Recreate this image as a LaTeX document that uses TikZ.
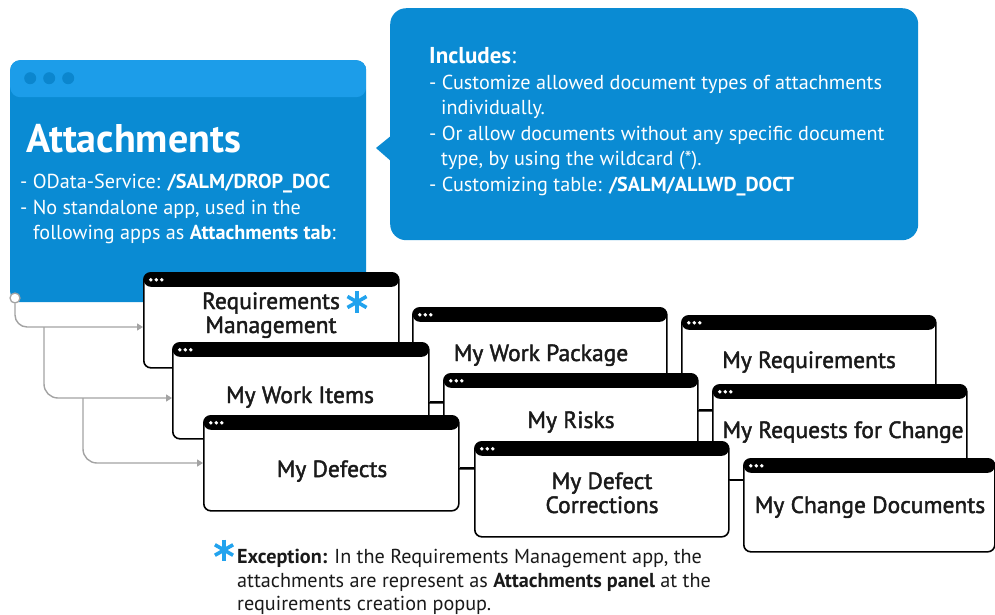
\documentclass[tikz,border=0pt]{standalone}
\usepackage{fontspec}
\setmainfont{PT Sans}
\newfontfamily\medfont[FakeBold=1.8]{PT Sans}
\usetikzlibrary{arrows.meta,calc}
\definecolor{bodyblue}{HTML}{0A8BD3}
\definecolor{barblue}{HTML}{1C9DE9}
\definecolor{dotblue}{HTML}{0B86CE}
\definecolor{starblue}{HTML}{22A3EE}
\definecolor{graylc}{HTML}{A3A3A3}
\definecolor{ink}{HTML}{1A1A1A}
\tikzset{
  appwin/.style={draw=black, line width=1.6pt, fill=white, rounded corners=7pt,
    inner sep=0pt, anchor=north west, minimum width=#1,
    path picture={
      \fill[black] (path picture bounding box.north west) rectangle ([yshift=-14pt]path picture bounding box.north east);
      \foreach \dx in {7,12.5,18}{\fill[white] ([xshift=\dx pt,yshift=-7pt]path picture bounding box.north west) circle (1.9pt);}
    }},
  wintitle/.style={font=\fontsize{23.5}{26}\medfont, text=ink, inner sep=0pt, anchor=base},
  bodytext/.style={font=\fontsize{20.2}{24}\selectfont, inner sep=0pt, anchor=base west},
  whitetext/.style={bodytext, text=white},
  grayline/.style={draw=graylc, line width=1.4pt, -{Triangle[length=6pt,width=7pt]}},
  conn/.style={draw=black, line width=1.6pt},
  starmark/.style={draw=starblue, line width=3.6pt}
}
\newcommand{\bluestar}[2]{%
  \foreach \a in {90,30,-30}{\draw[starmark] ($(#1)+(\a:#2)$) -- ($(#1)+(\a+180:#2)$);}}
\begin{document}
\begin{tikzpicture}[x=1pt,y=-1pt]
\useasboundingbox (0,0) rectangle (995,614);
\fill[white] (0,0) rectangle (995,614);

% Attachments window
\node[draw=none, fill=bodyblue, rounded corners=10pt, inner sep=0pt, anchor=north west,
  minimum width=356pt, minimum height=242pt,
  path picture={
    \fill[barblue] (path picture bounding box.north west) rectangle ([yshift=-37pt]path picture bounding box.north east);
    \foreach \dx in {20,39,58}{\fill[dotblue] ([xshift=\dx pt,yshift=-18pt]path picture bounding box.north west) circle (6pt);}
  }] (att) at (10,60) {};
\node[whitetext, font=\fontsize{40}{44}\bfseries] (atth) at (26,152) {Attachments};
\node[whitetext] (attl1) at (20,188) {- OData-Service: \textbf{/SALM/DROP\_DOC}};
\node[whitetext] (attl2) at (20,214) {- No standalone app, used in the};
\node[whitetext] (attl3) at (33,239) {following apps as \textbf{Attachments tab}:};

% Includes callout
\node[draw=none, fill=bodyblue, rounded corners=16pt, inner sep=0pt, anchor=north west,
  minimum width=528pt, minimum height=232pt] (inc) at (390,8) {};
\coordinate (pt1) at (392,135);
\coordinate (pt2) at (376,148);
\coordinate (pt3) at (392,162);
\fill[bodyblue] (pt1) -- (pt2) -- (pt3) -- cycle;
\node[whitetext, font=\fontsize{23}{26}\selectfont] (inch) at (429,63) {\textbf{Includes}:};
\node[whitetext] (incl1) at (429,89) {- Customize allowed document types of attachments};
\node[whitetext] (incl2) at (441,114) {individually.};
\node[whitetext] (incl3) at (429,140) {- Or allow documents without any specific document};
\node[whitetext] (incl4) at (441,165) {type, by using the wildcard (*).};
\node[whitetext] (incl5) at (429,191) {- Customizing table: \textbf{/SALM/ALLWD\_DOCT}};

% windows, back to front
\node[appwin=255pt, minimum height=95pt] (req) at (143,272) {};
\node[appwin=254pt, minimum height=95pt] (mwp) at (412,307) {};
\node[appwin=254pt, minimum height=95pt] (mreq) at (681,315) {};
\node[appwin=256pt, minimum height=96pt] (mwi) at (172,342) {};
\node[appwin=254pt, minimum height=95pt] (risks) at (443,373) {};
\node[appwin=254pt, minimum height=95pt] (rfc) at (712,384) {};
\node[appwin=255pt, minimum height=95pt] (def) at (203,415) {};
\node[appwin=254pt, minimum height=95pt] (dc) at (474,441) {};
\node[appwin=251pt, minimum height=93pt] (cd) at (743,458) {};

% window titles
\node[wintitle] (treq1) at (271,309) {Requirements};
\node[wintitle] (treq2) at (271,333) {Management};
\node[wintitle] (tmwp) at (541,361) {My Work Package};
\node[wintitle] (tmreq) at (809,368) {My Requirements};
\node[wintitle] (tmwi) at (300,403) {My Work Items};
\node[wintitle] (trisks) at (571,428) {My Risks};
\node[wintitle] (trfc) at (843,438) {My Requests for Change};
\node[wintitle] (tdef) at (332,477) {My Defects};
\node[wintitle] (tdc1) at (602,489) {My Defect};
\node[wintitle] (tdc2) at (602,513) {Corrections};
\node[wintitle] (tcd) at (870,513) {My Change Documents};

% stars
\coordinate (s1) at (357,302);
\bluestar{s1}{11pt}
\coordinate (s2) at (224,550);
\bluestar{s2}{10.5pt}

% black connectors
\coordinate (c1) at (0,402);
\coordinate (c2) at (0,468);
\coordinate (c3) at (0,410);
\coordinate (c4) at (0,480);
\draw[conn] (mwi.east |- c1) -- (risks.west |- c1);
\draw[conn] (def.east |- c2) -- (dc.west |- c2);
\draw[conn] (risks.east |- c3) -- (rfc.west |- c3);
\draw[conn] (dc.east |- c4) -- (cd.west |- c4);

% gray connectors
\node[circle, draw=graylc, fill=white, line width=1.3pt, minimum size=10pt, inner sep=0pt] (src) at (15,298) {};
\coordinate (r1) at (0,327);
\coordinate (r2) at (0,398);
\coordinate (r3) at (0,463);
\coordinate (b1) at (44,327);
\coordinate (b2) at (83,398);
\draw[grayline, rounded corners=12pt] (src.south) |- (req.west |- r1);
\draw[grayline, rounded corners=14pt] (b1) |- (mwi.west |- r2);
\draw[grayline, rounded corners=14pt] (b2) |- (def.west |- r3);

% footnote
\node[bodytext, text=ink] (fn1) at (237,563) {\textbf{Exception:} In the Requirements Management app, the};
\node[bodytext, text=ink] (fn2) at (237,587) {attachments are represent as \textbf{Attachments panel} at the};
\node[bodytext, text=ink] (fn3) at (237,610) {requirements creation popup.};
\end{tikzpicture}
\end{document}
